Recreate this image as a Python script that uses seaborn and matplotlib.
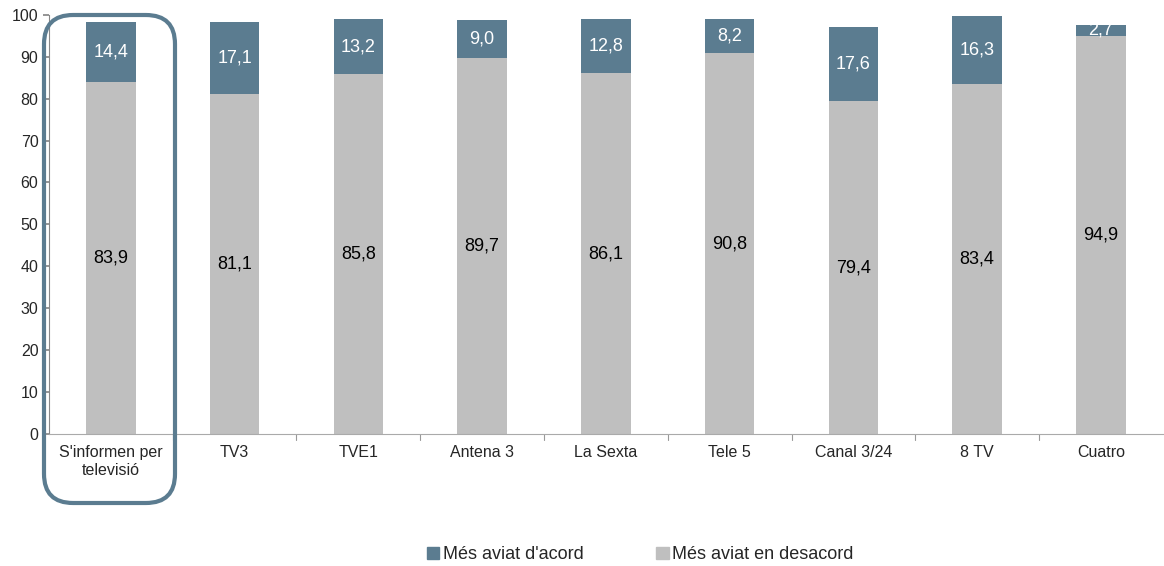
import numpy as np
import pandas as pd
import seaborn as sns
import matplotlib
matplotlib.use("Agg")
from matplotlib import pyplot as plt
from matplotlib.patches import FancyBboxPatch, Patch

# DATA
categories = ["S'informen per\ntelevisió", "TV3", "TVE1", "Antena 3", "La Sexta",
              "Tele 5", "Canal 3/24", "8 TV", "Cuatro"]
desacord = [83.9, 81.1, 85.8, 89.7, 86.1, 90.8, 79.4, 83.4, 94.9]
acord = [14.4, 17.1, 13.2, 9.0, 12.8, 8.2, 17.6, 16.3, 2.7]
legend_labels = ["Més aviat d'acord", "Més aviat en desacord"]

DARK = "#5b7c90"
GRAY = "#bfbfbf"

sns.set_theme(style="white")
plt.rcParams['font.family'] = ['Liberation Sans', 'DejaVu Sans']

df = pd.DataFrame({"cat": categories, "desacord": desacord, "acord": acord})
df["total"] = df["desacord"] + df["acord"]

fig = plt.figure(figsize=(11.64, 5.66), dpi=100)
ax = fig.add_axes([0.042, 0.233, 0.957, 0.741])

# stacked: draw total in dark, then the gray part on top of it
sns.barplot(data=df, x="cat", y="total", color=DARK, width=0.4, saturation=1,
            linewidth=0, ax=ax)
sns.barplot(data=df, x="cat", y="desacord", color=GRAY, width=0.4, saturation=1,
            linewidth=0, ax=ax)

for i, (d, a) in enumerate(zip(desacord, acord)):
    ax.text(i, d / 2, f"{d:.1f}".replace(".", ","), ha="center", va="center",
            fontsize=13, color="black")
    ax.text(i, d + a / 2, f"{a:.1f}".replace(".", ","), ha="center", va="center",
            fontsize=13, color="white")

ax.set_ylim(0, 100)
ax.set_xlim(-0.5, len(categories) - 0.5)
ax.set_yticks(np.arange(0, 101, 10))
ax.set_xlabel("")
ax.set_ylabel("")
ax.set_xticks(np.arange(len(categories)))
ax.set_xticklabels(categories, fontsize=11.5)
ax.tick_params(axis="x", length=0, pad=8)
ax.tick_params(axis="y", labelsize=11.5, length=4, color="#888888", direction="out", left=True)
# ticks between categories
for xb in np.arange(0.5, len(categories) - 0.5, 1):
    ax.plot([xb, xb], [0, -1.3], color="#999999", lw=0.8, clip_on=False)
for s in ["top", "right"]:
    ax.spines[s].set_visible(False)
ax.spines["left"].set_color("#888888")
ax.spines["bottom"].set_color("#aaaaaa")
ax.spines["left"].set_linewidth(0.8)
ax.spines["bottom"].set_linewidth(0.8)

# rounded box around first category
box = FancyBboxPatch((44 / 1164, 1 - 503 / 566), (175 - 44) / 1164, (503 - 15) / 566,
                     boxstyle="round,pad=0,rounding_size=0.025",
                     transform=fig.transFigure, fill=False, edgecolor=DARK, lw=3,
                     mutation_aspect=1164 / 566)
fig.patches.append(box)

handles = [Patch(color=DARK), Patch(color=GRAY)]
fig.legend(handles, legend_labels, loc="center", bbox_to_anchor=(0.55, 0.02),
           ncol=2, frameon=False, fontsize=13, handlelength=0.7, handleheight=0.7,
           handletextpad=0.2, columnspacing=4)

fig.savefig("out.png", dpi=100)
